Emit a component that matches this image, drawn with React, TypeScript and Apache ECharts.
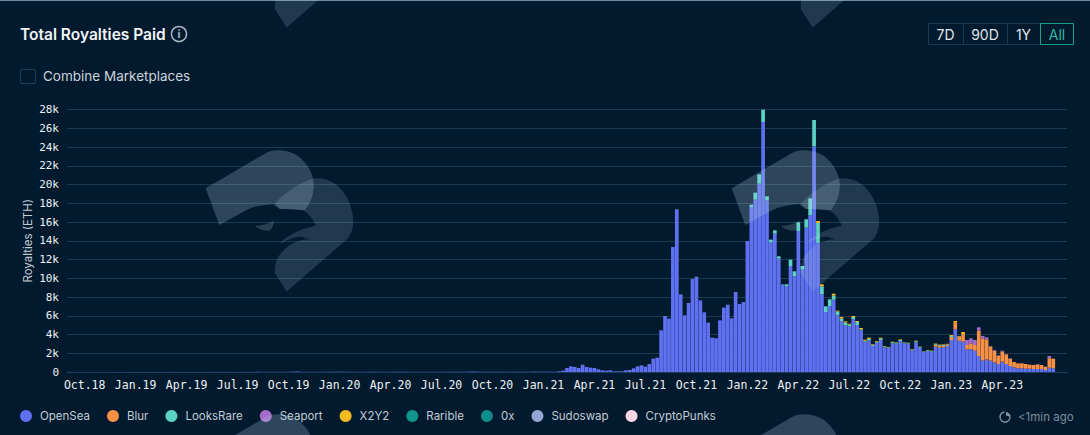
import React, { useEffect, useRef } from "react";
import * as echarts from "echarts";

const quarterLabels = ["Oct.18","Jan.19","Apr.19","Jul.19","Oct.19","Jan.20","Apr.20","Jul.20","Oct.20","Jan.21","Apr.21","Jul.21","Oct.21","Jan.22","Apr.22","Jul.22","Oct.22","Jan.23","Apr.23"];
const yTicks = [0,2000,4000,6000,8000,10000,12000,14000,16000,18000,20000,22000,24000,26000,28000];
const legendNames = ["OpenSea","Blur","LooksRare","Seaport","X2Y2","Rarible","0x","Sudoswap","CryptoPunks"];
const seriesColors = ["#5f70f0","#f79044","#5ad3c6","#a46bc9","#f6b91f","#11948a","#0f8c8c","#93a6d0","#fbd6e6"];

const openSea = [
  5,5,5,5,5,5,5,5,5,5,5,5,5,5,5,5,8,8,8,8,10,10,8,8,8,
  10,10,10,10,8,8,8,8,8,8,10,10,10,12,12,12,12,10,10,10,12,12,12,15,15,15,15,15,15,15,
  18,20,30,60,30,20,18,15,15,18,20,20,25,30,40,30,20,18,15,15,18,20,25,25,20,18,18,20,25,30,
  25,20,18,18,15,15,15,15,18,18,20,20,22,25,25,30,30,40,50,40,30,30,30,25,25,25,25,
  20,20,25,25,20,25,30,40,30,30,40,35,30,
  71,142,427,604,533,427,782,533,462,427,284,178,142,178,71,71,71,178,213,391,604,711,569,853,1422,1529,
  4445,5974,5690,13335,17353,8285,6045,7361,9921,10170,7645,6365,5263,3663,3592,5512,6863,7183,5725,8534,7254,7468,13975,
  17600,18385,20090,26670,18313,13797,14757,12090,9300,9139,11308,10206,15042,10917,15397,16713,24074,13762,8285,
  6400,7041,7716,6045,5405,4978,4872,5618,4978,4445,3236,3378,
  2774,3129,3414,2632,2560,3058,3023,3307,3058,3023,2311,3165,2596,2134,2240,2169,
  2703,2596,2632,2774,3414,4552,3343,3236,2418,2418,2276,1707,1209,1351,1209,1031,853,1102,853,640,498,391,391,356,356,320,320,320,213,462,391,
];
const blurStart = 221;
const blur = [188,189,153,117,326,700,450,750,462,640,605,2703,2382,2133,1494,1245,889,1103,1031,783,569,534,534,497,426,427,498,427,356,1000,1031];
const looksRareStart = 174;
const looksRare = [250,746,997,1316,427,320,356,249,50,213,676,533,924,391,889,1814,2809,2130,853,605,711,440,400,300,300,200,250,350,100,100,150,100,100,130,90,60,120,100,120,70,60,90,110,70,40,70,70,80,80,100,60,100];
const seaportStart = 229;
const seaport = [534,534,533,355,249,214,71,71,36,71,36,35,0,0,0,0,0,0,0,0,0,245];
const x2y2Start = 191;
const x2y2 = [216,214,0,0,200,100,160,127,84,106,113,149,113,135,77,78,119,52,47,58,42,58,37,46,53,68,37,31,37,37,60,60,60,60,100,189,47,281];
const rarible: number[] = [];
const zeroX: number[] = [];
const sudoswap: number[] = [];
const cryptoPunks: number[] = [];

const CATEGORY_COUNT = 255;
const FIRST_LABEL = 4;
const LABEL_STEP = 13;

const birdUpper = "M47,175 L235,65 Q280,53 320,75 Q370,110 372,170 Q370,210 345,240 L270,237 L255,222 Q200,225 170,240 L88,285 Z";
const birdLower = "M370,145 Q440,140 475,210 Q505,280 475,325 L290,485 L255,430 Q250,380 300,345 Q330,328 360,328 L330,320 Q300,325 270,342 Q290,315 340,297 L378,287 Q360,250 340,242 Q300,235 270,237 L250,225 Q300,170 370,145 Z";
const birdEye = "M195,288 Q225,288 252,272 Q250,295 240,302 Q215,305 195,288 Z";
echarts.graphic.registerShape("birdUpper", echarts.graphic.extendPath(birdUpper, {}));
echarts.graphic.registerShape("birdLower", echarts.graphic.extendPath(birdLower, {}));
echarts.graphic.registerShape("birdEye", echarts.graphic.extendPath(birdEye, {}));

const pad = (start: number, values: number[]) => Array(start).fill(0).concat(values);

function watermark(ox: number, oy: number) {
  const common = { x: ox, y: oy, scaleX: 1 / 3, scaleY: 1 / 3, silent: true, z: 100 };
  return [
    { type: "birdUpper", ...common, style: { fill: "rgba(190,215,235,0.24)" } },
    { type: "birdLower", ...common, style: { fill: "rgba(190,215,235,0.17)" } },
    { type: "birdEye", ...common, style: { fill: "rgba(190,215,235,0.2)" } },
  ];
}

const labelColor = "#eef1f4";
const txt = (x: number, y: number, text: string, fontSize: number, fill: string, extra: any = {}) => ({
  type: "text", x, y, z: 50, silent: true,
  style: { text, fontSize, fill, fontFamily: "Inter", textAlign: "left", textVerticalAlign: "middle", ...extra },
});

export default function App() {
  const ref = useRef<HTMLDivElement>(null);
  useEffect(() => {
    const chart = echarts.init(ref.current!, null, { renderer: "svg" });
    const categories = Array.from({ length: CATEGORY_COUNT }, (_, i) => {
      const q = (i - FIRST_LABEL) / LABEL_STEP;
      return Number.isInteger(q) && quarterLabels[q] ? quarterLabels[q] : `w${i}`;
    });
    const data = [
      openSea, pad(blurStart, blur), pad(looksRareStart, looksRare), pad(seaportStart, seaport),
      pad(x2y2Start, x2y2), rarible, zeroX, sudoswap, cryptoPunks,
    ];
    const border = "#1c3a4e";
    const buttons = [
      { type: "rect", shape: { x: 928.5, y: 23.5, width: 112, height: 21 }, style: { fill: "transparent", stroke: border, lineWidth: 1 }, z: 50, silent: true },
      { type: "line", shape: { x1: 963.5, y1: 23.5, x2: 963.5, y2: 44.5 }, style: { stroke: border }, z: 50, silent: true },
      { type: "line", shape: { x1: 1007.5, y1: 23.5, x2: 1007.5, y2: 44.5 }, style: { stroke: border }, z: 50, silent: true },
      { type: "rect", shape: { x: 1040.5, y: 23.5, width: 33, height: 21 }, style: { fill: "transparent", stroke: "#17a08c", lineWidth: 1 }, z: 51, silent: true },
      txt(945.5, 34, "7D", 14, "#dfe5ea", { textAlign: "center" }),
      txt(985, 34, "90D", 14, "#dfe5ea", { textAlign: "center" }),
      txt(1023.5, 34, "1Y", 14, "#dfe5ea", { textAlign: "center" }),
      txt(1057, 34, "All", 14, "#2fb8a3", { textAlign: "center" }),
    ];
    chart.setOption({
      animation: false,
      backgroundColor: "#021a2e",
      grid: { left: 67, top: 109.5, width: 1000, height: 262.5, containLabel: false },
      legend: {
        left: 20, top: 410, padding: 0, icon: "circle", itemWidth: 12, itemHeight: 12, itemGap: 17, selectedMode: false,
        data: legendNames,
        textStyle: { color: "#c3ccd4", fontSize: 11.5, fontFamily: "Inter", padding: [0, 0, 0, 3] },
      },
      xAxis: {
        type: "category", data: categories, boundaryGap: true,
        axisTick: { show: false },
        axisLine: { lineStyle: { color: "#1d3d5c" } },
        axisLabel: {
          color: labelColor, fontSize: 11.5, fontFamily: "DejaVu Sans Mono", margin: 7, hideOverlap: false,
          interval: (i: number) => (i - FIRST_LABEL) % LABEL_STEP === 0 && i >= FIRST_LABEL && i < FIRST_LABEL + quarterLabels.length * LABEL_STEP,
        },
      },
      yAxis: {
        type: "value", min: yTicks[0], max: yTicks[yTicks.length - 1], interval: yTicks[1],
        name: "Royalties (ETH)", nameLocation: "middle", nameGap: 33, nameRotate: 90, nameMoveOverlap: false,
        nameTextStyle: { color: "#c3ccd4", fontSize: 11.5, fontFamily: "Inter" },
        axisLabel: { color: labelColor, fontSize: 11, fontFamily: "DejaVu Sans Mono", margin: 8, formatter: (v: number) => (v === 0 ? "0" : `${v / 1000}k`) },
        axisLine: { show: false }, axisTick: { show: false },
        splitLine: { lineStyle: { color: "#1b3b4e", width: 1 } },
      },
      series: legendNames.map((name, i) => ({
        name, type: "bar", stack: "total", data: data[i], barCategoryGap: "6%",
        itemStyle: { color: seriesColors[i] }, silent: true,
      })),
      graphic: [
        { type: "rect", shape: { x: 0, y: 0, width: 1090, height: 1 }, style: { fill: "#6b8da0" }, z: 60, silent: true },
        ...[[190, -134], [716, -134], [190, 130], [716, 130], [190, 394], [716, 394]].flatMap(([x, y]) => watermark(x, y)),
        txt(20, 34, "Total Royalties Paid", 15.5, "#f2f5f7", { fontWeight: 600 }),
        { type: "circle", shape: { cx: 179, cy: 34, r: 7.5 }, style: { fill: "transparent", stroke: "#a9b5bf", lineWidth: 1.5 }, z: 50, silent: true },
        txt(179, 34, "i", 11, "#a9b5bf", { textAlign: "center", fontWeight: 700 }),
        { type: "rect", shape: { x: 20.5, y: 69.5, width: 15, height: 14, r: 1 }, style: { fill: "transparent", stroke: "#1f4052", lineWidth: 1 }, z: 50, silent: true },
        txt(43, 76, "Combine Marketplaces", 13.5, "#cbd3da"),
        ...buttons,
        { type: "arc", shape: { cx: 1005, cy: 417, r: 5, startAngle: -0.6, endAngle: 4.6 }, style: { fill: "none", stroke: "#8494a1", lineWidth: 1.4 }, z: 50, silent: true },
        { type: "sector", shape: { cx: 1006, cy: 415.5, r: 3.5, r0: 0, startAngle: -Math.PI / 2, endAngle: 0.3 }, style: { fill: "#8494a1" }, z: 50, silent: true },
        txt(1018, 417, "<1min ago", 11.5, "#7f8e9b"),
      ],
    });
    return () => chart.dispose();
  }, []);
  return <div ref={ref} style={{ position: "fixed", left: 0, top: 0, width: 1090, height: 435 }} />;
}
